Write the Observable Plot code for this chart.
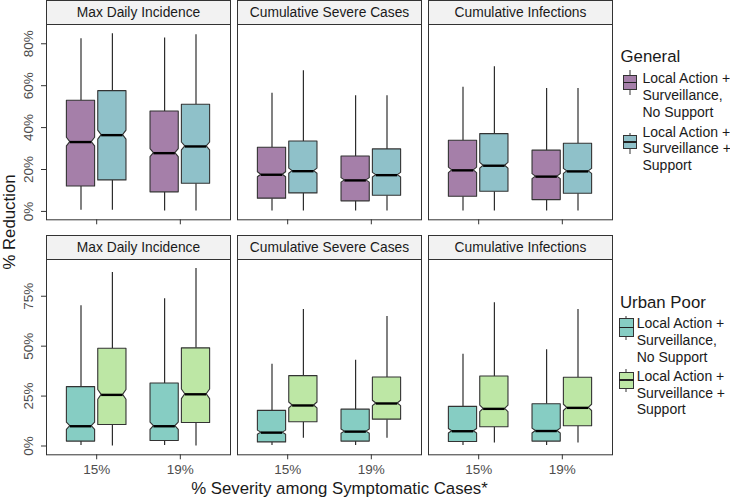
<!DOCTYPE html>
<html><head><meta charset="utf-8">
<script src="https://cdn.jsdelivr.net/npm/d3@7"></script>
<script src="https://cdn.jsdelivr.net/npm/@observablehq/plot@0.6"></script>
<style>
body{margin:0;background:#fff;}
#chart{position:relative;width:730px;height:498px;font-family:"Liberation Sans",Arial,Helvetica,sans-serif;color:#1a1a1a;overflow:hidden;background:#fff}
#chart svg{position:absolute;left:0;overflow:visible}
.lab{position:absolute;white-space:nowrap;line-height:1}
.key{position:absolute}
.key .w{position:absolute;left:50%;width:1px;background:#333;transform:translateX(-0.5px)}
.key .b{position:absolute;left:0;right:0;border:1px solid #333;box-sizing:border-box}
.key .m{position:absolute;left:0;right:0;height:1.4px;background:#222}
</style></head><body><div id="chart"></div>
<script>
// ---- data ----
const metrics = ["Max Daily Incidence", "Cumulative Severe Cases", "Cumulative Infections"];
const severities = ["15%", "19%"];
const strategies = ["Local Action + Surveillance, No Support", "Local Action + Surveillance + Support"];
const legendLines = [["Local Action +", "Surveillance,", "No Support"], ["Local Action +", "Surveillance +", "Support"]];
const groups = ["General", "Urban Poor"];
const generalColors = ["#a57fa9", "#8fc1c9"];
const urbanColors = ["#86cdc3", "#bde7a5"];
const generalTicks = [0, 20, 40, 60, 80];
const urbanTicks = [0, 25, 50, 75];
// order: metric -> severity -> strategy (% reduction)
const generalMin = [0.5, 0.5, 0.2, 0.2, 0.2, 0.2, 0.2, 0.2, 0.2, 0.2, 0.2, 0.2];
const generalQ1  = [11.9, 14.8, 9.1, 13.2, 6.1, 8.6, 4.8, 7.5, 7.0, 9.4, 5.4, 8.4];
const generalMed = [33.1, 36.4, 27.8, 31.0, 17.5, 19.2, 14.8, 17.3, 19.6, 21.8, 16.6, 19.1];
const generalQ3  = [52.8, 57.4, 47.7, 50.9, 30.4, 33.4, 26.2, 29.6, 33.7, 36.9, 29.0, 32.3];
const generalMax = [82.4, 84.8, 82.7, 84.3, 56.4, 67.1, 55.2, 55.2, 59.3, 69.0, 58.7, 58.7];
const urbanMin = [0.2, 0.0, 0.2, 0.0, 0.2, 3.9, 0.2, 3.9, 0.2, 1.5, 0.2, 1.5];
const urbanQ1  = [2.2, 10.5, 2.5, 11.5, 1.8, 11.9, 2.2, 13.2, 2.0, 9.4, 2.2, 9.9];
const urbanMed = [9.9, 25.6, 9.9, 25.9, 6.7, 20.3, 7.2, 21.3, 7.4, 18.6, 7.5, 19.1];
const urbanQ3  = [29.5, 48.7, 31.3, 48.9, 17.6, 35.0, 18.2, 34.3, 19.6, 34.8, 20.9, 34.2];
const urbanMax = [70.2, 86.9, 73.8, 88.9, 41.0, 68.3, 42.9, 64.8, 45.9, 71.7, 48.2, 68.3];
const generalN = 1000, urbanN = 600; // sample size used for notches

// ---- build ----
const FONT = '"Liberation Sans", Arial, Helvetica, sans-serif';
function buildBoxes(mins, q1s, meds, q3s, maxs, n) {
  const boxes = []; let k = 0;
  const dodge = 0.1875, half = 0.16875, indent = 0.12 * 2 * 0.16875;
  metrics.forEach(m => severities.forEach((s, si) => strategies.forEach((st, ti) => {
    const cx = si + 1 + (ti === 0 ? -dodge : dodge);
    const nh = 1.58 * (q3s[k] - q1s[k]) / Math.sqrt(n);
    boxes.push({id: k, metric: m, severity: s, strategy: st, cx, x1: cx - half, x2: cx + half,
      mx1: cx - half + indent, mx2: cx + half - indent,
      lo: mins[k], q1: q1s[k], med: meds[k], q3: q3s[k], hi: maxs[k], nh});
    k++;
  })));
  return boxes;
}
function outline(boxes) {
  const rows = [];
  for (const b of boxes) {
    const lvls = [[b.q1, b.x1, b.x2], [b.med - b.nh, b.x1, b.x2], [b.med, b.mx1, b.mx2], [b.med + b.nh, b.x1, b.x2], [b.q3, b.x1, b.x2]];
    for (const [y, a, c] of lvls) rows.push({id: b.id, metric: b.metric, strategy: b.strategy, y, x1: a, x2: c});
  }
  return rows;
}
function rowPlot(boxes, colors, yDomain, yTicks, showLabels, height, marginBottom) {
  const marginTop = 24;
  const panelH = height - marginTop - marginBottom;
  return Plot.plot({
    width: 620, height, marginLeft: 45, marginRight: 6.7, marginTop, marginBottom,
    style: {fontFamily: FONT, fontSize: "13px", color: "#4d4d4d", background: "transparent", overflow: "visible"},
    fx: {domain: metrics, paddingInner: 0.035, paddingOuter: 0, axis: null, label: null},
    x: {domain: [0.4, 2.6], axis: null, label: null},
    y: {domain: yDomain, axis: null, label: null},
    color: {domain: strategies, range: colors},
    marks: [
      Plot.frame({stroke: "#333", fill: "white", strokeWidth: 1}),
      Plot.frame({fill: "#f2f2f2", stroke: "#333", strokeWidth: 1, insetTop: -marginTop, insetBottom: panelH}),
      Plot.text(metrics, {fx: d => d, text: d => d, frameAnchor: "top", dy: -11.5, lineAnchor: "middle", fontSize: 13.8, fill: "#1a1a1a"}),
      Plot.ruleX(boxes, {fx: "metric", x: "cx", y1: "lo", y2: "q1", stroke: "#1a1a1a", strokeWidth: 1.1}),
      Plot.ruleX(boxes, {fx: "metric", x: "cx", y1: "q3", y2: "hi", stroke: "#1a1a1a", strokeWidth: 1.1}),
      Plot.areaX(outline(boxes), {fx: "metric", y: "y", x1: "x1", x2: "x2", z: "id", fill: "strategy", stroke: "#333", strokeWidth: 1.1}),
      Plot.ruleY(boxes, {fx: "metric", y: "med", x1: "mx1", x2: "mx2", stroke: "#000", strokeWidth: 2.4}),
      Plot.axisY({ticks: yTicks, tickFormat: d => d + "%", tickRotate: -90, tickSize: 5, tickPadding: 9, label: null, fontSize: 13.5, stroke: "#333", fill: "#4d4d4d"}),
      Plot.axisX({ticks: [1, 2], tickFormat: d => showLabels ? severities[d - 1] : "", tickSize: 5, tickPadding: 5, label: null, fontSize: 13.5, stroke: "#333", fill: "#4d4d4d"})
    ]
  });
}

const chart = document.getElementById("chart");
const topPlot = rowPlot(buildBoxes(generalMin, generalQ1, generalMed, generalQ3, generalMax, generalN), generalColors, [-4.0, 89.2], generalTicks, false, 232, 12.7);
topPlot.style.top = "0px";
chart.appendChild(topPlot);
const botPlot = rowPlot(buildBoxes(urbanMin, urbanQ1, urbanMed, urbanQ3, urbanMax, urbanN), urbanColors, [-4.4, 93.4], urbanTicks, true, 249.3, 30);
botPlot.style.top = "234.7px";
chart.appendChild(botPlot);

function label(text, x, y, size, opts = {}) {
  const d = document.createElement("div");
  d.className = "lab";
  d.textContent = text;
  d.style.fontSize = size + "px";
  d.style.left = x + "px";
  d.style.top = y + "px";
  d.style.transform = opts.transform || "translateY(-50%)";
  chart.appendChild(d);
  return d;
}
label("% Reduction", 10, 222, 16.8, {transform: "translate(-50%,-50%) rotate(-90deg)"});
label("% Severity among Symptomatic Cases*", 339.5, 489, 16.8, {transform: "translate(-50%,-50%)"});

function legend(title, colors, cfg) {
  label(title, cfg.titleX, cfg.titleY, 16.8);
  colors.forEach((c, i) => {
    const k = cfg.keys[i];
    const key = document.createElement("div");
    key.className = "key";
    key.style.left = cfg.keyX + "px"; key.style.width = cfg.keyW + "px";
    key.style.top = k.wt + "px"; key.style.height = (k.wb - k.wt) + "px";
    const h = k.wb - k.wt;
    key.innerHTML = `<div class="w" style="top:0;height:${h}px"></div>
      <div class="b" style="top:${k.bt - k.wt}px;height:${k.bb - k.bt}px;background:${c}"></div>
      <div class="m" style="top:${(k.bt + k.bb) / 2 - k.wt - 0.7}px"></div>`;
    chart.appendChild(key);
    legendLines[i].forEach((t, j) => label(t, cfg.textX, cfg.lineY[i] + j * 16.7, 14));
  });
}
legend(groups[0], generalColors, {titleX: 620.5, titleY: 56.5, keyX: 622.5, keyW: 14, textX: 642.5,
  lineY: [78.3, 131.7],
  keys: [{wt: 70, bt: 75, bb: 90, wb: 95}, {wt: 132.5, bt: 135, bb: 149, wb: 154}]});
legend(groups[1], urbanColors, {titleX: 620, titleY: 302.7, keyX: 619, keyW: 14.5, textX: 636.7,
  lineY: [323.3, 376],
  keys: [{wt: 315.5, bt: 318, bb: 337, wb: 340}, {wt: 368.5, bt: 371.5, bb: 388.5, wb: 391.5}]});
</script></body></html>
